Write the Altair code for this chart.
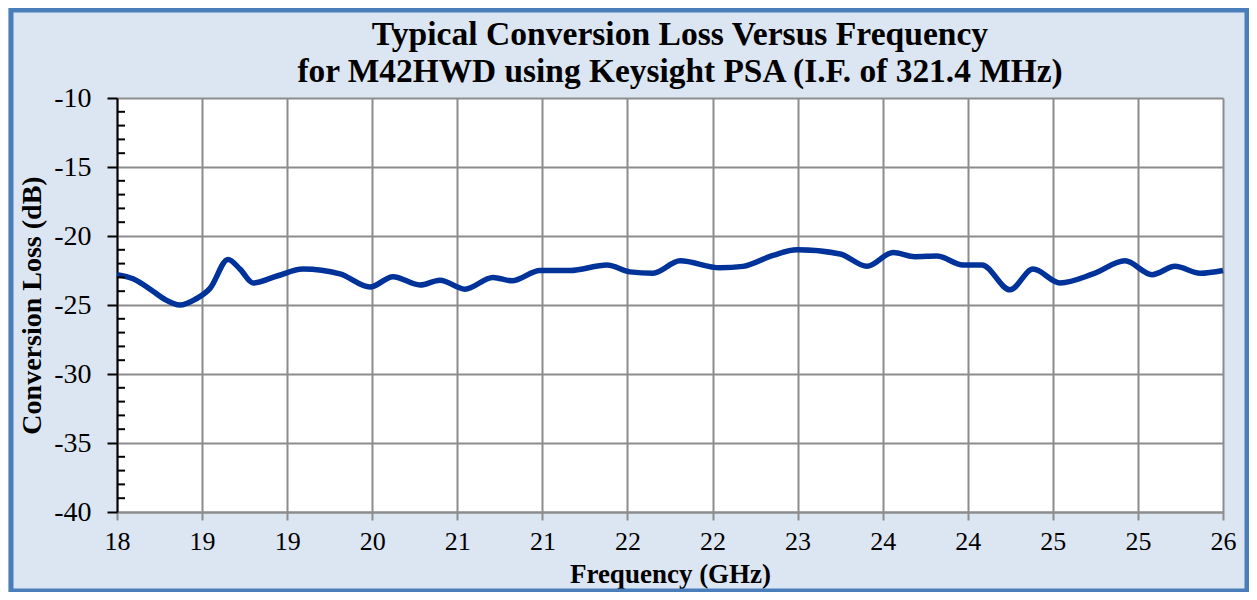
import json
import altair as alt
import pandas as pd

# ---- data ----
freq_ghz = [18.000, 18.116, 18.260, 18.347, 18.456, 18.564, 18.673, 18.803, 18.890, 18.984,
            19.157, 19.345, 19.613, 19.830, 19.996, 20.192, 20.336, 20.517, 20.720, 20.857,
            21.060, 21.277, 21.544, 21.711, 21.877, 22.073, 22.362, 22.528, 22.745, 22.919,
            23.230, 23.425, 23.613, 23.772, 23.931, 24.119, 24.257, 24.459, 24.626, 24.821,
            25.060, 25.291, 25.487, 25.653, 25.834, 26.000]
loss_db = [-22.8, -23.1, -24.0, -24.6, -25.0, -24.6, -23.8, -21.7, -22.4, -23.4,
           -22.9, -22.4, -22.75, -23.7, -22.95, -23.55, -23.2, -23.85, -23.0, -23.25,
           -22.5, -22.5, -22.1, -22.6, -22.7, -21.8, -22.3, -22.2, -21.4, -21.0,
           -21.3, -22.2, -21.2, -21.5, -21.45, -22.1, -22.1, -23.9, -22.4, -23.4,
           -22.75, -21.8, -22.8, -22.2, -22.7, -22.5]

x_tick_labels = ["18", "19", "19", "20", "21", "21", "22", "22", "23", "24", "24", "25", "25", "26"]
x_min, x_max = 18, 26
y_major = [-40, -35, -30, -25, -20, -15, -10]
y_minor = [v for v in range(-40, -9) if v % 5 != 0]

title_line1 = "Typical Conversion Loss Versus Frequency"
title_line2 = "for M42HWD using Keysight PSA (I.F. of 321.4 MHz)"

n_int = len(x_tick_labels) - 1
x_tick_values = [x_min + i * (x_max - x_min) / n_int for i in range(len(x_tick_labels))]

df = pd.DataFrame({"freq": freq_ghz, "loss": loss_db})
minor_df = pd.DataFrame({"v": y_minor})

FONT = "Liberation Serif"
W, H = 1106, 414
GRID = "#8c8c8c"

label_expr = (json.dumps(x_tick_labels)
              + f"[round((datum.value - {x_min}) * {n_int} / {x_max - x_min})]")

x_scale = alt.Scale(domain=[x_min, x_max], nice=False, zero=False)
y_scale = alt.Scale(domain=[-40, -10], nice=False, zero=False)

line = alt.Chart(df).mark_line(
    color="#003399", strokeWidth=5.5, interpolate="monotone"
).encode(
    x=alt.X("freq:Q", scale=x_scale,
            axis=alt.Axis(values=x_tick_values, labelExpr=label_expr,
                          title="Frequency (GHz)", titleFont=FONT, titleFontSize=27,
                          titleFontWeight="bold", titleColor="black",
                          titleX=W / 2, titleY=62, titleBaseline="middle",
                          labelFont=FONT, labelFontSize=26, labelColor="black",
                          labelPadding=8, tickSize=8, tickColor=GRID, tickWidth=2,
                          domainColor=GRID, domainWidth=2,
                          grid=True, gridColor=GRID, gridWidth=2,
                          labelFlush=False, labelOverlap=False)),
    y=alt.Y("loss:Q", scale=y_scale,
            axis=alt.Axis(values=y_major, labelExpr="datum.value + ''",
                          title="Conversion Loss (dB)", titleFont=FONT, titleFontSize=28,
                          titleFontWeight="bold", titleColor="black",
                          titleX=-85, titleY=H / 2, titleAngle=270,
                          titleAlign="center", titleBaseline="middle",
                          labelFont=FONT, labelFontSize=28, labelColor="black",
                          labelPadding=16, tickSize=10, tickColor="black", tickWidth=2,
                          domainColor="black", domainWidth=2,
                          grid=True, gridColor=GRID, gridWidth=2,
                          labelOverlap=False)),
)

minor = alt.Chart(minor_df).mark_rule(color="black", strokeWidth=2).encode(
    y=alt.Y("v:Q", scale=y_scale),
    x=alt.value(0),
    x2=alt.value(8),
)

border = alt.Chart(alt.Data(values=[{}])).mark_rect(
    fill="transparent", stroke="#4a7ebb", strokeWidth=5
).encode(
    x=alt.value(-106), x2=alt.value(W + 24),
    y=alt.value(-88), y2=alt.value(H + 79),
)

title1 = alt.Chart(alt.Data(values=[{}])).mark_text(
    text=title_line1, font=FONT, fontSize=33.6, fontWeight="bold", color="black",
    align="center", baseline="alphabetic"
).encode(x=alt.value(W / 2 + 10), y=alt.value(-53))

title2 = alt.Chart(alt.Data(values=[{}])).mark_text(
    text=title_line2, font=FONT, fontSize=33.4, fontWeight="bold", color="black",
    align="center", baseline="alphabetic"
).encode(x=alt.value(W / 2 + 10), y=alt.value(-16))

chart = alt.layer(border, title1, title2, line, minor).properties(
    width=W, height=H,
    padding={"left": 109, "top": 90, "right": 26, "bottom": 80},
    autosize=alt.AutoSizeParams(type="none"),
    background="#dce6f2",
).configure_view(fill="white", strokeWidth=0)

chart.save("out.html", embed_options={"renderer": "svg", "actions": False})
